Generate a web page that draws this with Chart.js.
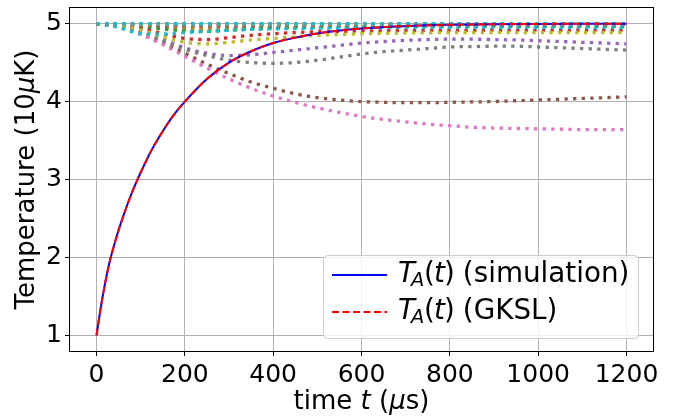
<!DOCTYPE html>
<html>
<head>
<meta charset="utf-8">
<script src="https://cdn.jsdelivr.net/npm/chart.js@4.4.1/dist/chart.umd.min.js"></script>
<style>
  html, body { margin: 0; padding: 0; background: #fff; }
  canvas { display: block; }
</style>
</head>
<body>
<canvas id="tempChart" width="685" height="416"></canvas>
<script>
// T_A(t): simulated and GKSL temperature of A (units of 10 uK), time in us
var simTimes = [0, 10, 20, 30, 40, 50, 60, 80, 100, 125, 150, 175, 200, 250, 300, 350, 400, 450, 500, 600, 700, 800, 900, 1000, 1100, 1200];
var simTemp  = [1.00, 1.37, 1.685, 1.95, 2.16, 2.35, 2.52, 2.83, 3.09, 3.38, 3.62, 3.83, 4.00, 4.29, 4.50, 4.645, 4.75, 4.82, 4.874, 4.937, 4.968, 4.984, 4.992, 4.996, 4.998, 4.999];
var gkslTemp = [1.00, 1.37, 1.685, 1.95, 2.16, 2.35, 2.52, 2.83, 3.09, 3.38, 3.62, 3.83, 4.00, 4.29, 4.50, 4.645, 4.75, 4.82, 4.874, 4.937, 4.968, 4.984, 4.992, 4.996, 4.998, 4.999];

// dotted curves, sampled every 50 us from 0 to 1200
var dotTimes = [0, 50, 100, 150, 200, 250, 300, 350, 400, 450, 500, 550, 600, 650, 700, 750, 800, 850, 900, 950, 1000, 1050, 1100, 1150, 1200];
var modeBlue   = [5, 4.99, 4.965, 4.94, 4.925, 4.925, 4.93, 4.94, 4.95, 4.955, 4.96, 4.963, 4.965, 4.967, 4.968, 4.969, 4.97, 4.97, 4.97, 4.97, 4.97, 4.97, 4.97, 4.97, 4.97];
var modeOrange = [5, 4.992, 4.97, 4.945, 4.93, 4.93, 4.94, 4.95, 4.957, 4.962, 4.966, 4.968, 4.97, 4.972, 4.973, 4.974, 4.975, 4.975, 4.975, 4.975, 4.975, 4.975, 4.975, 4.975, 4.975];
var modeGreen  = [5, 4.99, 4.96, 4.93, 4.905, 4.9, 4.915, 4.93, 4.94, 4.948, 4.953, 4.957, 4.96, 4.962, 4.963, 4.964, 4.965, 4.965, 4.965, 4.965, 4.965, 4.965, 4.965, 4.965, 4.965];
var modeRed    = [5, 4.985, 4.94, 4.87, 4.81, 4.795, 4.82, 4.85, 4.87, 4.885, 4.895, 4.9, 4.905, 4.908, 4.91, 4.912, 4.913, 4.914, 4.915, 4.915, 4.915, 4.915, 4.915, 4.915, 4.915];
var modePurple = [5, 4.97, 4.91, 4.8, 4.69, 4.62, 4.59, 4.6, 4.63, 4.66, 4.69, 4.72, 4.75, 4.77, 4.785, 4.795, 4.8, 4.8, 4.795, 4.79, 4.78, 4.77, 4.76, 4.75, 4.74];
var modeBrown  = [5, 4.96, 4.87, 4.75, 4.62, 4.48, 4.36, 4.25, 4.17, 4.1, 4.05, 4.02, 4.0, 3.99, 3.985, 3.985, 3.99, 3.995, 4.0, 4.01, 4.02, 4.03, 4.04, 4.05, 4.06];
var modePink   = [5, 4.96, 4.86, 4.73, 4.58, 4.43, 4.29, 4.17, 4.07, 3.99, 3.92, 3.86, 3.81, 3.77, 3.74, 3.71, 3.69, 3.67, 3.66, 3.655, 3.65, 3.645, 3.64, 3.64, 3.64];
var modeGray   = [5, 4.97, 4.9, 4.78, 4.67, 4.59, 4.53, 4.5, 4.49, 4.5, 4.53, 4.57, 4.61, 4.64, 4.66, 4.68, 4.7, 4.705, 4.71, 4.71, 4.7, 4.69, 4.68, 4.67, 4.66];
var modeOlive  = [5, 4.98, 4.92, 4.83, 4.76, 4.74, 4.76, 4.79, 4.81, 4.83, 4.85, 4.86, 4.87, 4.875, 4.88, 4.882, 4.884, 4.885, 4.885, 4.885, 4.885, 4.885, 4.885, 4.885, 4.885];
var modeCyan   = [5, 4.95, 4.87, 4.865, 4.885, 4.9, 4.915, 4.925, 4.932, 4.937, 4.94, 4.943, 4.945, 4.947, 4.948, 4.949, 4.95, 4.95, 4.95, 4.95, 4.95, 4.95, 4.95, 4.95, 4.95];
var modeBlue2   = [5, 4.995, 4.98, 4.965, 4.96, 4.962, 4.967, 4.972, 4.976, 4.979, 4.981, 4.983, 4.984, 4.985, 4.985, 4.985, 4.985, 4.985, 4.985, 4.985, 4.985, 4.985, 4.985, 4.985, 4.985];
var modeOrange2 = [5, 4.996, 4.984, 4.972, 4.967, 4.968, 4.972, 4.976, 4.979, 4.982, 4.984, 4.985, 4.986, 4.987, 4.987, 4.987, 4.987, 4.987, 4.987, 4.987, 4.987, 4.987, 4.987, 4.987, 4.987];
var modeGreen2  = [5, 4.997, 4.987, 4.977, 4.972, 4.973, 4.976, 4.979, 4.982, 4.984, 4.986, 4.987, 4.988, 4.989, 4.989, 4.989, 4.989, 4.989, 4.989, 4.989, 4.989, 4.989, 4.989, 4.989, 4.989];
var modeRed2    = [5, 4.997, 4.99, 4.982, 4.977, 4.977, 4.98, 4.983, 4.985, 4.987, 4.988, 4.989, 4.99, 4.991, 4.991, 4.991, 4.991, 4.991, 4.991, 4.991, 4.991, 4.991, 4.991, 4.991, 4.991];
var modePurple2 = [5, 4.998, 4.992, 4.986, 4.982, 4.982, 4.984, 4.986, 4.988, 4.99, 4.991, 4.992, 4.993, 4.993, 4.993, 4.993, 4.993, 4.993, 4.993, 4.993, 4.993, 4.993, 4.993, 4.993, 4.993];
var modeBrown2  = [5, 4.998, 4.994, 4.989, 4.986, 4.986, 4.988, 4.99, 4.991, 4.992, 4.993, 4.994, 4.995, 4.995, 4.995, 4.995, 4.995, 4.995, 4.995, 4.995, 4.995, 4.995, 4.995, 4.995, 4.995];
var modePink2   = [5, 4.999, 4.996, 4.992, 4.99, 4.99, 4.991, 4.992, 4.993, 4.994, 4.995, 4.996, 4.996, 4.997, 4.997, 4.997, 4.997, 4.997, 4.997, 4.997, 4.997, 4.997, 4.997, 4.997, 4.997];
var modeGray2   = [5, 4.999, 4.997, 4.995, 4.994, 4.994, 4.995, 4.996, 4.996, 4.997, 4.997, 4.998, 4.998, 4.998, 4.998, 4.998, 4.998, 4.998, 4.998, 4.998, 4.998, 4.998, 4.998, 4.998, 4.998];
var modeOlive2  = [5, 5, 4.998, 4.997, 4.996, 4.996, 4.997, 4.997, 4.998, 4.998, 4.999, 4.999, 4.999, 4.999, 4.999, 4.999, 4.999, 4.999, 4.999, 4.999, 4.999, 4.999, 4.999, 4.999, 4.999];
var modeCyan2   = [5, 5, 4.999, 4.999, 4.998, 4.998, 4.999, 4.999, 4.999, 5, 5, 5, 5, 5, 5, 5, 5, 5, 5, 5, 5, 5, 5, 5, 5];

var xTicks = [0, 200, 400, 600, 800, 1000, 1200];
var yTicks = [1, 2, 3, 4, 5];

var dottedSeries = [
  modeBlue, modeOrange, modeGreen, modeRed, modePurple, modeBrown, modePink, modeGray, modeOlive, modeCyan,
  modeBlue2, modeOrange2, modeGreen2, modeRed2, modePurple2, modeBrown2, modePink2, modeGray2, modeOlive2, modeCyan2
];
// matplotlib default color cycle
var cycle = ['#1f77b4', '#ff7f0e', '#2ca02c', '#d62728', '#9467bd', '#8c564b', '#e377c2', '#7f7f7f', '#bcbd22', '#17becf'];

var FONT = '"DejaVu Sans", sans-serif';

function pairs(xs, ys) {
  return xs.map(function (x, i) { return { x: x, y: ys[i] }; });
}

var datasets = [];
// earlier datasets get a higher order so later ones are painted over them
dottedSeries.forEach(function (vals, i) {
  datasets.push({
    data: pairs(dotTimes, vals),
    borderColor: cycle[i % cycle.length],
    borderWidth: 3.3,
    borderDash: [3.3, 5.3],
    borderCapStyle: 'butt',
    pointRadius: 0,
    cubicInterpolationMode: 'monotone',
    order: 2 + dottedSeries.length - i
  });
});
datasets.push({
  data: pairs(simTimes, simTemp),
  borderColor: '#0000ff',
  borderWidth: 2,
  pointRadius: 0,
  cubicInterpolationMode: 'monotone',
  order: 1
});
datasets.push({
  data: pairs(simTimes, gkslTemp),
  borderColor: '#ff0000',
  borderWidth: 2,
  borderDash: [7, 3.5],
  pointRadius: 0,
  cubicInterpolationMode: 'monotone',
  order: 0
});

// text runs: [text, italic, size]
function runFont(p) {
  return (p[1] ? 'italic ' : '') + p[2] + 'px ' + FONT;
}
function runWidth(ctx, parts) {
  var w = 0;
  parts.forEach(function (p) {
    ctx.font = runFont(p);
    w += ctx.measureText(p[0]).width;
  });
  return w;
}
function drawRuns(ctx, x, y, parts) {
  parts.forEach(function (p) {
    ctx.font = runFont(p);
    ctx.fillText(p[0], x, y);
    x += ctx.measureText(p[0]).width;
  });
}

// legend label T_A(t) with hand-set advances, then the plain suffix
var LEG = 27.8;
function drawLegendLabel(ctx, x, y, suffix) {
  ctx.font = 'italic ' + LEG + 'px ' + FONT;
  ctx.fillText('T', x, y);
  ctx.font = 'italic ' + (LEG * 0.7) + 'px ' + FONT;
  ctx.fillText('A', x + 13, y + 6);
  ctx.font = LEG + 'px ' + FONT;
  ctx.fillText('(', x + 26, y);
  ctx.font = 'italic ' + LEG + 'px ' + FONT;
  ctx.fillText('t', x + 36, y);
  ctx.font = LEG + 'px ' + FONT;
  ctx.fillText(')', x + 46, y);
  ctx.fillText(' ' + suffix, x + 56, y);
}

var legendRows = [
  { color: '#0000ff', dash: [], suffix: '(simulation)' },
  { color: '#ff0000', dash: [7, 3.5], suffix: '(GKSL)' }
];

var decorations = {
  id: 'decorations',
  afterDatasetsDraw: function (chart) {
    var ctx = chart.ctx;
    ctx.save();
    // legend frame
    ctx.beginPath();
    ctx.roundRect(323.5, 255.5, 315, 83, 4);
    ctx.fillStyle = 'rgba(255,255,255,0.8)';
    ctx.fill();
    ctx.strokeStyle = '#cccccc';
    ctx.lineWidth = 1;
    ctx.stroke();
    legendRows.forEach(function (row, i) {
      var y = 275 + i * 37;
      ctx.beginPath();
      ctx.setLineDash(row.dash);
      ctx.strokeStyle = row.color;
      ctx.lineWidth = 2;
      ctx.moveTo(332, y);
      ctx.lineTo(387, y);
      ctx.stroke();
      ctx.setLineDash([]);
      ctx.fillStyle = '#000';
      ctx.textBaseline = 'middle';
      ctx.textAlign = 'left';
      drawLegendLabel(ctx, 398, y, row.suffix);
    });
    ctx.restore();
  },
  afterDraw: function (chart) {
    var ctx = chart.ctx;
    var a = chart.chartArea;
    ctx.save();
    ctx.strokeStyle = '#000';
    ctx.lineWidth = 1;
    ctx.strokeRect(Math.round(a.left) - 0.5, Math.round(a.top) - 0.5, Math.round(a.right - a.left) + 1, Math.round(a.bottom - a.top) + 1);

    ctx.fillStyle = '#000';
    ctx.textBaseline = 'middle';
    ctx.textAlign = 'left';
    // x axis title
    var xParts = [['time ', false, 26], ['t', true, 26], [' (', false, 26], ['\u03bc', true, 26], ['s)', false, 26]];
    var w = runWidth(ctx, xParts);
    drawRuns(ctx, (a.left + a.right) / 2 - w / 2, 402, xParts);
    // y axis title
    var yParts = [['Temperature (10', false, 26], ['\u03bc', true, 26], ['K)', false, 26]];
    ctx.translate(27, (a.top + a.bottom) / 2);
    ctx.rotate(-Math.PI / 2);
    drawRuns(ctx, -runWidth(ctx, yParts) / 2, 0, yParts);
    ctx.restore();
  }
};

new Chart(document.getElementById('tempChart'), {
  type: 'line',
  data: { datasets: datasets },
  options: {
    responsive: false,
    animation: false,
    devicePixelRatio: 1,
    layout: { padding: { top: 8, right: 32, left: 0, bottom: 0 } },
    plugins: { legend: { display: false }, tooltip: { enabled: false } },
    scales: {
      x: {
        type: 'linear',
        min: -60,
        max: 1260,
        afterBuildTicks: function (axis) { axis.ticks = xTicks.map(function (v) { return { value: v }; }); },
        afterFit: function (axis) { axis.height = 65; axis.paddingLeft = 0; axis.paddingRight = 0; },
        border: { display: false },
        grid: { color: '#b0b0b0', lineWidth: 1, tickColor: '#000', tickLength: 5 },
        ticks: {
          color: '#000', padding: 4, maxRotation: 0,
          font: { family: FONT, size: 25 },
          callback: function (v) { return String(v); }
        }
      },
      y: {
        min: 0.8,
        max: 5.2,
        afterBuildTicks: function (axis) { axis.ticks = yTicks.map(function (v) { return { value: v }; }); },
        afterFit: function (axis) { axis.width = 70; axis.paddingTop = 0; axis.paddingBottom = 0; },
        border: { display: false },
        grid: { color: '#b0b0b0', lineWidth: 1, tickColor: '#000', tickLength: 5 },
        ticks: {
          color: '#000', padding: 3,
          font: { family: FONT, size: 25 },
          callback: function (v) { return String(v); }
        }
      }
    }
  },
  plugins: [decorations]
});
</script>
</body>
</html>
